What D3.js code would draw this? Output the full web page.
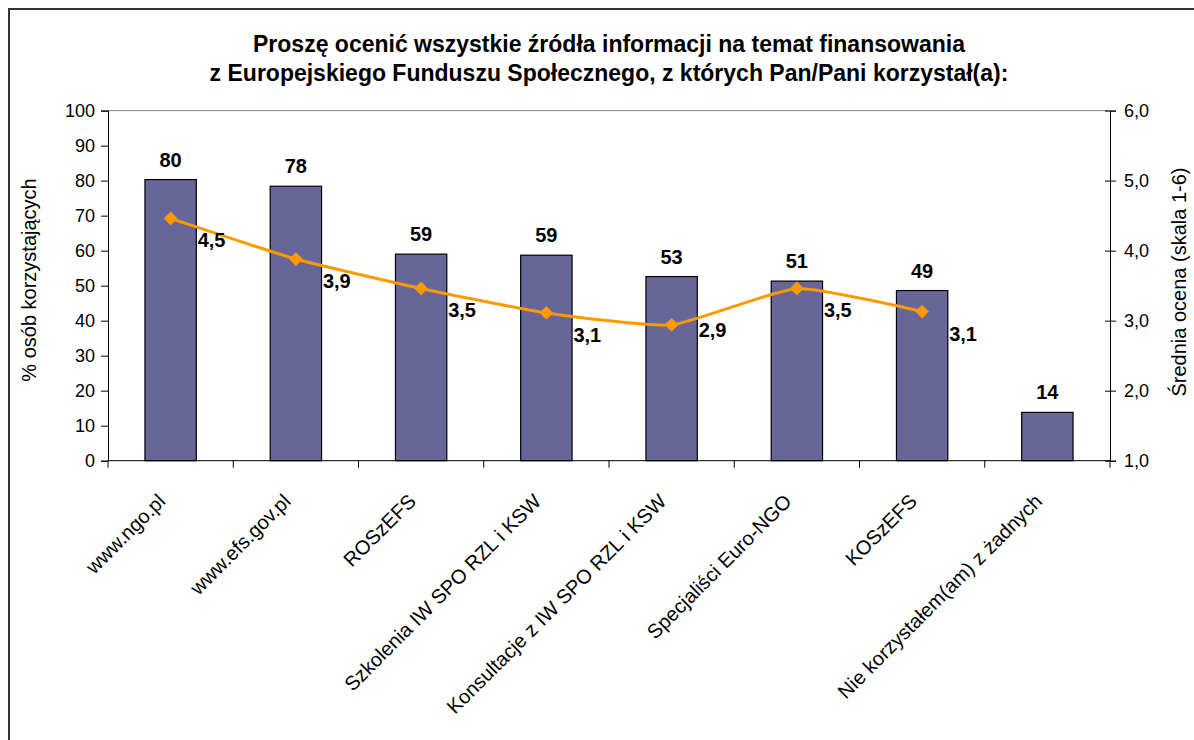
<!DOCTYPE html>
<html>
<head>
<meta charset="utf-8">
<script src="https://cdn.jsdelivr.net/npm/d3@7"></script>
<style>
  body { margin: 0; background: #fff; }
  svg { display: block; font-family: Arial, "Liberation Sans", sans-serif; }
</style>
</head>
<body>
<svg id="chart" width="1194" height="740"></svg>
<script>
const categories = [
  'www.ngo.pl',
  'www.efs.gov.pl',
  'ROSzEFS',
  'Szkolenia IW SPO RZL i KSW',
  'Konsultacje z IW SPO RZL i KSW',
  'Specjaliści Euro-NGO',
  'KOSzEFS',
  'Nie korzystałem(am) z żadnych'
];
const usersPct = [80.3, 78.4, 59.0, 58.7, 52.6, 51.3, 48.6, 13.8];
const avgRating = [4.46, 3.88, 3.46, 3.11, 2.94, 3.46, 3.13];
const leftTicks = [0, 10, 20, 30, 40, 50, 60, 70, 80, 90, 100];
const rightTicks = [1, 2, 3, 4, 5, 6];

const titleLines = [
  'Proszę ocenić wszystkie źródła informacji na temat finansowania',
  'z Europejskiego Funduszu Społecznego, z których Pan/Pani korzystał(a):'
];

const margin = {left: 108, right: 1110, top: 110.6, bottom: 460.7};
// the 2,9 label sits higher than the others in the original
const labelNudge = {4: -17};

const svg = d3.select('#chart');

// outer frame (only top and left edges are visible in the picture)
svg.append('path')
  .attr('d', 'M9,760 L9,9 L1200,9')
  .attr('fill', 'none')
  .attr('stroke', '#333')
  .attr('stroke-width', 2);

const x = d3.scaleBand()
  .domain(categories)
  .range([margin.left, margin.right])
  .paddingInner(0.59)
  .paddingOuter(0.295);

const xTicks = d3.scaleBand().domain(categories).range([margin.left, margin.right]);

const y = d3.scaleLinear().domain([0, 100]).range([margin.bottom, margin.top]);
const y2 = d3.scaleLinear().domain([1, 6]).range([margin.bottom, margin.top]);

const cx = (d, i) => x(categories[i]) + x.bandwidth() / 2;

// top border of plot area
svg.append('line')
  .attr('x1', margin.left).attr('x2', margin.right)
  .attr('y1', margin.top).attr('y2', margin.top)
  .attr('stroke', '#808080').attr('stroke-width', 1);

// title
svg.append('text')
  .attr('text-anchor', 'middle')
  .style('font-size', '23px')
  .style('font-weight', 'bold')
  .selectAll('tspan')
  .data(titleLines)
  .enter()
  .append('tspan')
  .attr('x', 609)
  .attr('y', (d, i) => 52 + i * 29)
  .text(d => d);

// bars
svg.selectAll('.bar')
  .data(usersPct)
  .enter()
  .append('rect')
  .classed('bar', true)
  .attr('x', (d, i) => x(categories[i]))
  .attr('y', d => y(d))
  .attr('width', x.bandwidth())
  .attr('height', d => y(0) - y(d))
  .attr('fill', '#666699')
  .attr('stroke', '#000')
  .attr('stroke-width', 1.2);

svg.selectAll('.bar-label')
  .data(usersPct)
  .enter()
  .append('text')
  .classed('bar-label', true)
  .attr('x', cx)
  .attr('y', d => y(d) - 13)
  .attr('text-anchor', 'middle')
  .style('font-size', '20px')
  .style('font-weight', 'bold')
  .text(d => d3.format('.0f')(d));

// left axis
const leftAxis = svg.append('g')
  .attr('transform', `translate(${margin.left},0)`)
  .call(d3.axisLeft(y).tickValues(leftTicks).tickSize(7).tickPadding(6));
leftAxis.selectAll('text').style('font-size', '18px').attr('fill', '#000');
leftAxis.select('.domain').attr('stroke', '#000');

// right axis
const fmt = d => d3.format('.1f')(d).replace('.', ',');
const rightAxis = svg.append('g')
  .attr('transform', `translate(${margin.right},0)`)
  .call(d3.axisRight(y2).tickValues(rightTicks).tickFormat(fmt).tickSize(6).tickPadding(8));
rightAxis.selectAll('.tick line').attr('x1', -5);
rightAxis.selectAll('text').style('font-size', '18px').attr('fill', '#000');
rightAxis.select('.domain').attr('stroke', '#000');

// bottom axis with ticks at category boundaries
svg.append('line')
  .attr('x1', margin.left).attr('x2', margin.right)
  .attr('y1', margin.bottom).attr('y2', margin.bottom)
  .attr('stroke', '#000');
svg.selectAll('.xtick')
  .data(categories.concat(['end']))
  .enter()
  .append('line')
  .attr('x1', (d, i) => margin.left + i * xTicks.step())
  .attr('x2', (d, i) => margin.left + i * xTicks.step())
  .attr('y1', margin.bottom)
  .attr('y2', margin.bottom + 7)
  .attr('stroke', '#000');

svg.selectAll('.xlabel')
  .data(categories)
  .enter()
  .append('text')
  .classed('xlabel', true)
  .attr('transform', d => `translate(${x(d) + x.bandwidth() / 2 - 9},${margin.bottom + 37}) rotate(-45)`)
  .attr('text-anchor', 'end')
  .attr('dy', '0.35em')
  .style('font-size', '20px')
  .text(d => d);

// axis titles
svg.append('text')
  .attr('transform', 'translate(36,280) rotate(-90)')
  .attr('text-anchor', 'middle')
  .style('font-size', '20px')
  .text('% osób korzystających');

svg.append('text')
  .attr('transform', 'translate(1186,282) rotate(-90)')
  .attr('text-anchor', 'middle')
  .style('font-size', '20px')
  .text('Średnia ocena (skala 1-6)');

// average rating line
const line = d3.line()
  .x(cx)
  .y(d => y2(d))
  .curve(d3.curveCardinal.tension(0.5));

svg.append('path')
  .datum(avgRating)
  .attr('d', line)
  .attr('fill', 'none')
  .attr('stroke', '#FF9900')
  .attr('stroke-width', 3);

svg.selectAll('.marker')
  .data(avgRating)
  .enter()
  .append('path')
  .classed('marker', true)
  .attr('d', d3.symbol().type(d3.symbolDiamond2).size(120))
  .attr('transform', (d, i) => `translate(${cx(d, i)},${y2(d)})`)
  .attr('fill', '#FF9900');

svg.selectAll('.line-label')
  .data(avgRating)
  .enter()
  .append('text')
  .classed('line-label', true)
  .attr('x', (d, i) => cx(d, i) + 27)
  .attr('y', (d, i) => y2(d) + 29 + (labelNudge[i] || 0))
  .style('font-size', '20px')
  .style('font-weight', 'bold')
  .text(d => d3.format('.1f')(d).replace('.', ','));
</script>
</body>
</html>
